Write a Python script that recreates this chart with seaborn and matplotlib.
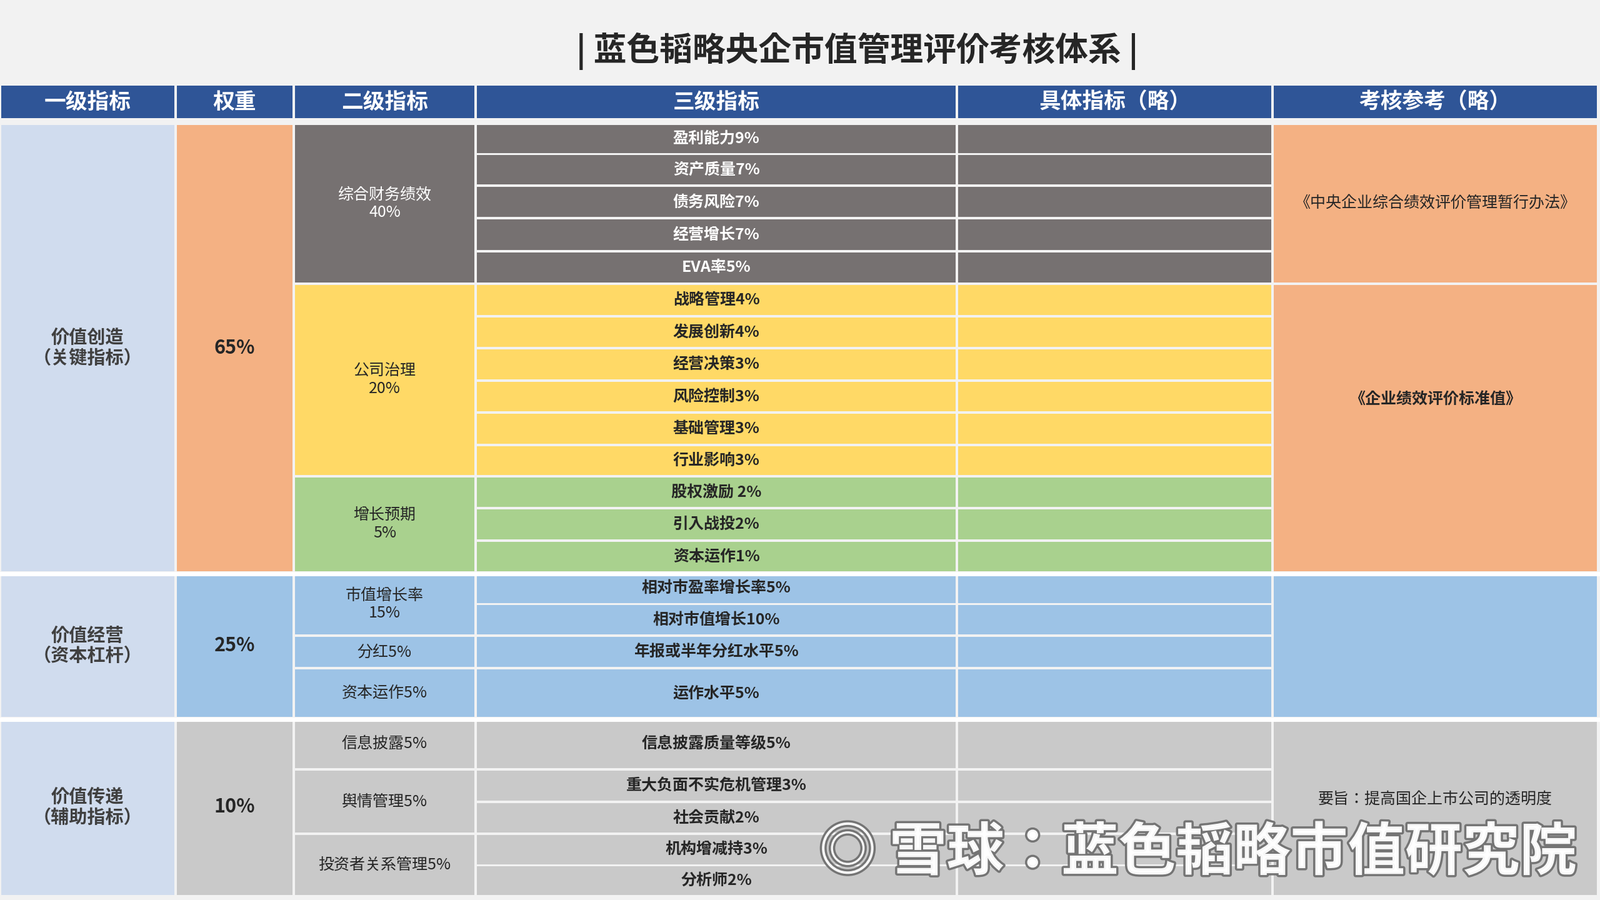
import matplotlib.pyplot as plt
import matplotlib.patheffects as pe
from matplotlib.patches import Rectangle
import seaborn as sns

sns.set_theme(style="white")
plt.rcParams["font.family"] = "sans-serif"
plt.rcParams["font.sans-serif"] = ["Noto Sans CJK SC", "Noto Sans CJK JP", "Noto Sans CJK TC",
                                   "Noto Sans CJK KR", "DejaVu Sans"]

TITLE = "蓝色韬略央企市值管理评价考核体系"
HEADERS = ["一级指标", "权重", "二级指标", "三级指标", "具体指标（略）", "考核参考（略）"]

# level 1
L1_NAMES = ["价值创造\n（关键指标）", "价值经营\n（资本杠杆）", "价值传递\n（辅助指标）"]
L1_WEIGHTS = ["65%", "25%", "10%"]

# level 2: label and how many level-3 rows it spans
L2_NAMES = ["综合财务绩效\n40%", "公司治理\n20%", "增长预期\n5%", "市值增长率\n15%", "分红5%",
            "资本运作5%", "信息披露5%", "舆情管理5%", "投资者关系管理5%"]
L2_SPAN = [5, 6, 3, 2, 1, 1, 1, 2, 2]

# level 3
L3_NAMES = ["盈利能力9%", "资产质量7%", "债务风险7%", "经营增长7%", "EVA率5%",
            "战略管理4%", "发展创新4%", "经营决策3%", "风险控制3%", "基础管理3%", "行业影响3%",
            "股权激励 2%", "引入战投2%", "资本运作1%",
            "相对市盈率增长率5%", "相对市值增长10%", "年报或半年分红水平5%", "运作水平5%",
            "信息披露质量等级5%", "重大负面不实危机管理3%", "社会贡献2%", "机构增减持3%", "分析师2%"]

REF_NAMES = ["《中央企业综合绩效评价管理暂行办法》", "《企业绩效评价标准值》", "", "要旨：提高国企上市公司的透明度"]
REF_SPAN = [5, 9, 4, 5]

# layout (pixel space of a 1568x882 canvas)
W, H = 1568, 882
COLS = [0, 172, 288, 466, 938, 1247, 1566]
ROW_EDGES = [121, 151, 182, 214, 246, 278, 310, 341, 373, 404, 436, 467, 498, 530, 561,
             592, 623, 655, 704, 754, 786, 817, 848, 878]
L1_SPAN = [14, 4, 5]
REF_TEXT_SHIFT = [0, -28, 0, -8]

C_HEAD = "#2F5597"
C_L1 = "#D0DCEE"
C_W = ["#F4B183", "#9DC3E6", "#C9C9C9"]
C_L2 = ["#767171", "#FFD966", "#A9D18E", "#9DC3E6", "#9DC3E6", "#9DC3E6", "#C9C9C9", "#C9C9C9", "#C9C9C9"]
C_REF = ["#F4B183", "#F4B183", "#9DC3E6", "#C9C9C9"]

fig = plt.figure(figsize=(25.6, 14.4), dpi=100, facecolor="#F2F2F2")
ax = fig.add_axes([0, 0, 1, 1])
ax.set_xlim(0, W)
ax.set_ylim(H, 0)
ax.axis("off")
ax.set_facecolor("#F2F2F2")


def cell(x0, x1, y0, y1, color, text="", tcolor="#262626", bold=False, size=18, gap=1.2, dy=0):
    ax.add_patch(Rectangle((x0 + gap, y0 + gap), x1 - x0 - 2 * gap, y1 - y0 - 2 * gap,
                           facecolor=color, edgecolor="none"))
    if text:
        ax.text((x0 + x1) / 2, (y0 + y1) / 2 + dy, text, ha="center", va="center", color=tcolor,
                fontsize=size, fontweight="bold" if bold else "normal", linespacing=1.1)


ax.text(840, 50, "| " + TITLE + " |", ha="center", va="center", fontsize=38,
        fontweight="bold", color="#262626")

for i, h in enumerate(HEADERS):
    cell(COLS[i], COLS[i + 1], 83, 117, C_HEAD, h, "white", True, 25)

# level 1 and weight
r = 0
for name, wt, span, cw in zip(L1_NAMES, L1_WEIGHTS, L1_SPAN, C_W):
    y0, y1 = ROW_EDGES[r], ROW_EDGES[r + span]
    cell(COLS[0], COLS[1], y0, y1, C_L1, name, "#404040", True, 21)
    cell(COLS[1], COLS[2], y0, y1, cw, wt, "#262626", True, 22)
    r += span

# level 2, level 3, specific
r = 0
for name, span, c in zip(L2_NAMES, L2_SPAN, C_L2):
    y0, y1 = ROW_EDGES[r], ROW_EDGES[r + span]
    tc = "white" if c == "#767171" else "#262626"
    cell(COLS[2], COLS[3], y0, y1, c, name, tc, False, 18)
    for k in range(r, r + span):
        cell(COLS[3], COLS[4], ROW_EDGES[k], ROW_EDGES[k + 1], c, L3_NAMES[k], tc, True, 18)
        cell(COLS[4], COLS[5], ROW_EDGES[k], ROW_EDGES[k + 1], c)
    r += span

# reference column
r = 0
for name, span, c, dy in zip(REF_NAMES, REF_SPAN, C_REF, REF_TEXT_SHIFT):
    y0, y1 = ROW_EDGES[r], ROW_EDGES[r + span]
    cell(COLS[5], COLS[6], y0, y1, c, name, "#262626", r == 5, 18, dy=dy)
    r += span

# section separators
for k in (14, 18):
    ax.plot([0, W], [ROW_EDGES[k] + 1, ROW_EDGES[k] + 1], color="white", lw=5)

ax.text(1545, 836, "◎ 雪球：蓝色韬略市值研究院", ha="right", va="center", fontsize=66,
        fontweight="bold", color="white", alpha=0.95,
        path_effects=[pe.withStroke(linewidth=5, foreground="#707070")])

fig.savefig("out.png", dpi=100, facecolor=fig.get_facecolor())
